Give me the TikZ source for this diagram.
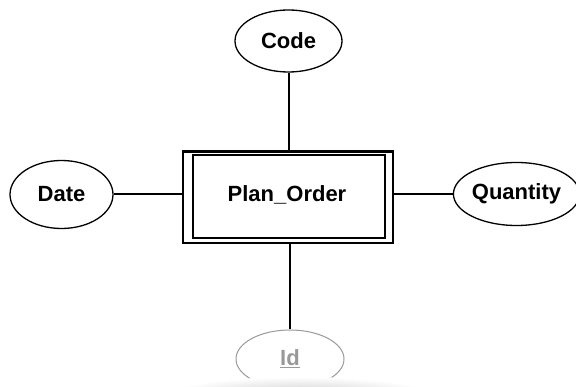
\documentclass[tikz,border=0pt]{standalone}
\usepackage{fontspec}
\setmainfont{Liberation Sans}
\usetikzlibrary{shapes.geometric}
\tikzset{
  attr/.style={ellipse, draw, line width=1.3pt, inner sep=0pt,
               font=\fontsize{22}{25}\selectfont\bfseries},
  entity/.style={rectangle, draw, line width=2.3pt, inner sep=0pt},
  link/.style={line width=2pt}
}
\begin{document}
\begin{tikzpicture}[x=1pt,y=-1pt]
  \useasboundingbox (0,0) rectangle (576,387);

  % weak entity: double border
  \node[entity, minimum width=210pt, minimum height=91.5pt] (ent) at (287.9,197.3) {};
  \node[entity, line width=2pt, minimum width=192pt, minimum height=82.5pt] (entin) at (289,196.3) {};
  \node[font=\fontsize{22}{25}\selectfont\bfseries] (lbl) at (287,195) {Plan\_Order};

  % attributes
  \node[attr, minimum width=107pt, minimum height=62pt] (code) at (288.5,41) {Code};
  \node[attr, minimum width=103pt, minimum height=68pt] (date) at (61.5,194.5) {Date};
  \node[attr, minimum width=117pt, minimum height=63pt] (qty) at (516.5,194) {Quantity};
  \node[attr, draw=gray!80, line width=1pt, text=gray!80, minimum width=108pt, minimum height=58pt] (id) at (290,359)
       {\underline{Id}};

  % connectors
  \draw[link] (code.south) -- (code.south |- ent.north);
  \draw[link] (date.east) -- (date.east -| ent.west);
  \draw[link] (qty.west) -- (qty.west -| ent.east);
  \draw[link] (id.north) -- (id.north |- ent.south);

  % soft shadow along the lower edge
  \shade[inner color=gray!40, outer color=white] (300,395) ellipse [x radius=135pt, y radius=18pt];
\end{tikzpicture}
\end{document}
